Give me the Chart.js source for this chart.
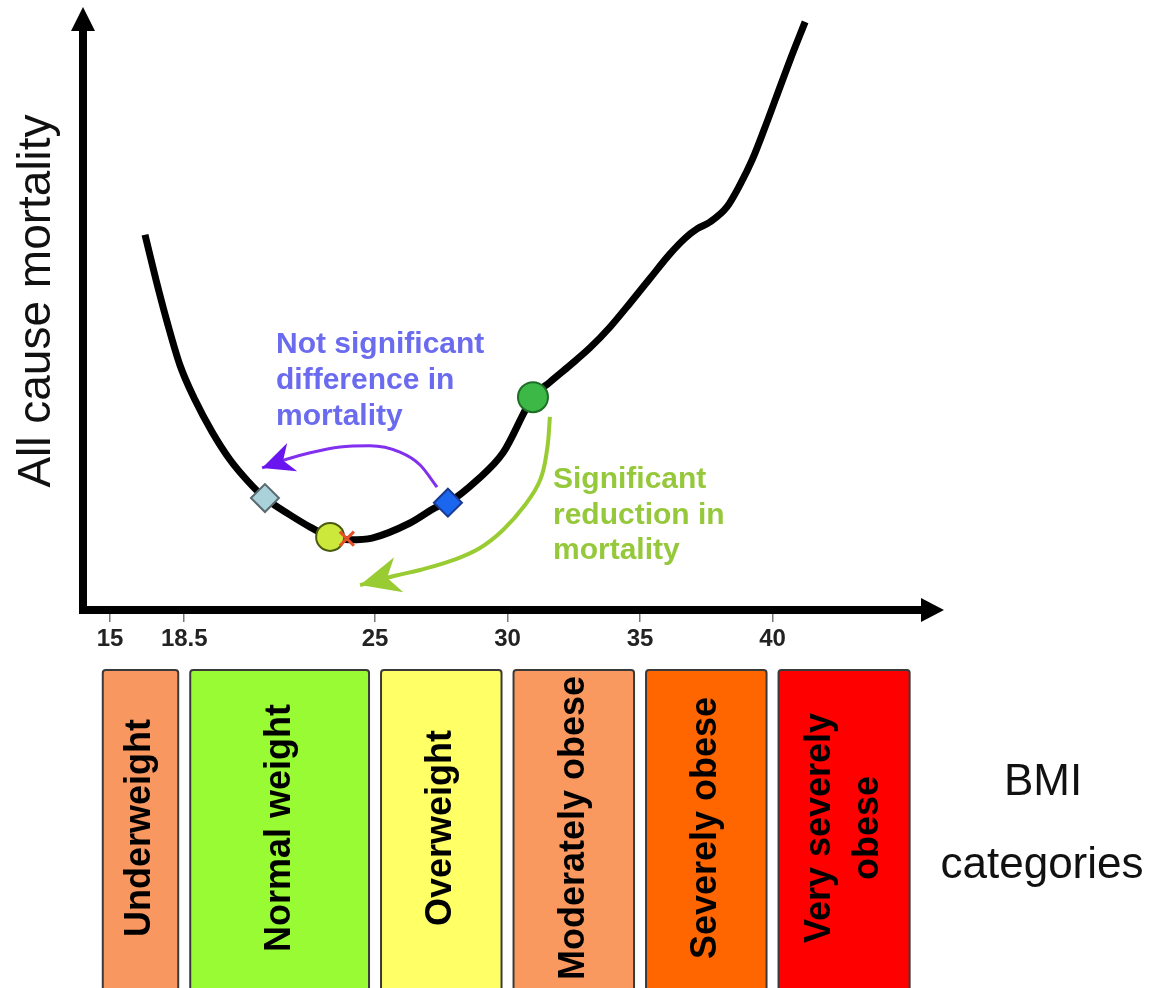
<!DOCTYPE html>
<html>
<head>
<meta charset="utf-8">
<script src="https://cdn.jsdelivr.net/npm/chart.js@4/dist/chart.umd.min.js"></script>
<style>
  html, body { margin: 0; padding: 0; background: #fff; }
  canvas { display: block; }
</style>
</head>
<body>
<canvas id="chart" width="1159" height="988" style="width:1159px;height:988px"></canvas>
<script>
// BMI tick labels on the x axis
const tickValues = [15, 18.5, 25, 30, 35, 40];

// mortality curve (arbitrary units) against BMI
const curveBmi = [16.65, 17.17, 17.69, 18.30, 18.87, 19.45, 20.06, 20.67, 21.25, 22.10, 22.79, 23.47, 24.15, 24.90,
  26.32, 27.34, 27.75, 28.85, 29.83, 30.96, 31.60, 32.36, 33.11, 33.87, 34.62, 35.38, 36.13, 36.70, 37.15,
  37.64, 38.28, 38.77, 39.23, 39.68, 40.13, 40.66, 41.23];
const curveMortality = [64.7, 56.9, 49.7, 42.2, 36.2, 30.7, 25.9, 22.2, 19.3, 16.4, 14.3, 12.6, 12.1, 12.4,
  15.0, 17.8, 18.5, 22.4, 27.1, 36.7, 39.3, 42.2, 45.2, 48.8, 52.9, 57.2, 61.4, 64.1, 65.7,
  66.9, 69.5, 73.3, 77.6, 82.8, 88.3, 94.8, 101.4];

// markers on the curve
const markerBmi = [21.25, 23.47, 24.04, 27.75, 30.96];
const markerMortality = [19.3, 12.6, 12.3, 18.5, 36.7];

// curved arrows
const purpleArrowBmi = [27.34, 26.70, 25.94, 24.83, 23.81, 22.79, 21.93, 21.15];
const purpleArrowMortality = [21.2, 25.0, 27.2, 28.3, 28.1, 27.1, 25.9, 24.5];
const greenArrowBmi = [31.60, 31.49, 31.23, 30.66, 29.83, 28.96, 27.94, 26.70, 25.75, 24.49];
const greenArrowMortality = [33.3, 27.6, 22.4, 18.1, 13.8, 10.7, 8.6, 6.9, 5.9, 4.3];

// BMI categories
const categories = [['Underweight'], ['Normal weight'], ['Overweight'], ['Moderately obese'], ['Severely obese'], ['Very severely', 'obese']];
const catFrom = [14.5, 18.5, 25, 30, 35, 40];
const catTo = [18.5, 25, 30, 35, 40, 45.4];
const catColors = ['#f8975f', '#99fb33', '#ffff66', '#f9995f', '#ff6600', '#ff0000'];

const notSignificant = ['Not significant', 'difference in', 'mortality'];
const significant = ['Significant', 'reduction in', 'mortality'];

// the drawing squeezes the 15-25 range, so the x scale does too
class BmiScale extends Chart.LinearScale {
  warp(v) {
    if (v <= 15 || v >= 25) return v;
    if (v <= 18.5) return 15 + (v - 15) * (2.8 / 3.5);
    return 17.8 + (v - 18.5) * (7.2 / 6.5);
  }
  unwarp(w) {
    if (w <= 15 || w >= 25) return w;
    if (w <= 17.8) return 15 + (w - 15) * (3.5 / 2.8);
    return 18.5 + (w - 17.8) * (6.5 / 7.2);
  }
  getPixelForValue(v) { return super.getPixelForValue(this.warp(v)); }
  getValueForPixel(p) { return this.unwarp(super.getValueForPixel(p)); }
}
BmiScale.id = 'bmi';
BmiScale.defaults = Chart.LinearScale.defaults;
Chart.register(BmiScale);

const FONT = "'Liberation Sans', Arial, sans-serif";

const arrowHeads = {
  id: 'arrowHeads',
  afterDatasetsDraw(chart) {
    const ctx = chart.ctx;
    chart.data.datasets.forEach((ds, i) => {
      if (!ds.arrowHead) return;
      const pts = chart.getDatasetMeta(i).data;
      const a = pts[pts.length - 2], b = pts[pts.length - 1];
      const ang = Math.atan2(b.y - a.y, b.x - a.x);
      const { len, half, color } = ds.arrowHead;
      const dx = Math.cos(ang), dy = Math.sin(ang);
      ctx.save();
      ctx.fillStyle = color;
      ctx.beginPath();
      ctx.moveTo(b.x, b.y);
      ctx.lineTo(b.x - len * dx - half * dy, b.y - len * dy + half * dx);
      ctx.lineTo(b.x - len * 0.7 * dx, b.y - len * 0.7 * dy);
      ctx.lineTo(b.x - len * dx + half * dy, b.y - len * dy - half * dx);
      ctx.closePath();
      ctx.fill();
      ctx.restore();
    });
  }
};

const decorations = {
  id: 'decorations',
  afterDraw(chart) {
    const ctx = chart.ctx;
    const area = chart.chartArea;
    const x = chart.scales.x;
    ctx.save();

    // axis arrow heads
    ctx.fillStyle = '#000';
    ctx.beginPath();
    ctx.moveTo(area.left, area.top - 23);
    ctx.lineTo(area.left - 12, area.top + 1);
    ctx.lineTo(area.left + 12, area.top + 1);
    ctx.closePath();
    ctx.fill();
    ctx.beginPath();
    ctx.moveTo(area.right + 22, area.bottom);
    ctx.lineTo(area.right - 1, area.bottom - 12);
    ctx.lineTo(area.right - 1, area.bottom + 12);
    ctx.closePath();
    ctx.fill();

    // y axis title
    ctx.fillStyle = '#111';
    ctx.font = '46px ' + FONT;
    ctx.textAlign = 'center';
    ctx.textBaseline = 'alphabetic';
    ctx.save();
    ctx.translate(50, 301);
    ctx.rotate(-Math.PI / 2);
    ctx.fillText('All cause mortality', 0, 0);
    ctx.restore();

    // BMI categories caption
    ctx.font = '44px ' + FONT;
    ctx.fillText('BMI', 1043, 795);
    ctx.fillText('categories', 1042, 878);

    // annotation texts
    ctx.textAlign = 'left';
    ctx.font = 'bold 30px ' + FONT;
    ctx.fillStyle = '#6b6bef';
    notSignificant.forEach((t, i) => ctx.fillText(t, 276, 353 + i * 36));
    ctx.fillStyle = '#95c83a';
    significant.forEach((t, i) => ctx.fillText(t, 553, 488 + i * 35.5));

    // category boxes
    const top = 670, bottom = 1000;
    categories.forEach((lines, i) => {
      const x0 = x.getPixelForValue(catFrom[i]) + 6;
      const x1 = x.getPixelForValue(catTo[i]) - 6;
      ctx.fillStyle = catColors[i];
      ctx.strokeStyle = '#3a3a3a';
      ctx.lineWidth = 2;
      ctx.beginPath();
      ctx.roundRect(x0, top, x1 - x0, bottom - top, 3);
      ctx.fill();
      ctx.stroke();
      ctx.save();
      ctx.translate((x0 + x1) / 2, 828);
      ctx.rotate(-Math.PI / 2);
      ctx.fillStyle = '#000';
      ctx.font = 'bold 36px ' + FONT;
      ctx.textAlign = 'center';
      ctx.textBaseline = 'middle';
      lines.forEach((t, j) => ctx.fillText(t, 0, (j - (lines.length - 1) / 2) * 48));
      ctx.restore();
    });
    ctx.restore();
  }
};

const toXY = (xs, ys) => xs.map((v, i) => ({ x: v, y: ys[i] }));

new Chart(document.getElementById('chart'), {
  type: 'line',
  data: {
    datasets: [
      {
        data: toXY(markerBmi, markerMortality),
        showLine: false,
        pointStyle: ['rectRot', 'circle', 'crossRot', 'rectRot', 'circle'],
        pointRadius: [14, 14, 10, 14, 15],
        pointBackgroundColor: ['#a9d2da', '#cce83a', '#e8502a', '#1a66ee', '#3cb846'],
        pointBorderColor: ['#5a6a70', '#4a5a10', '#e8502a', '#1a3a90', '#1e6e28'],
        pointBorderWidth: [2, 2, 3, 2, 2],
        order: 0
      },
      {
        data: toXY(purpleArrowBmi, purpleArrowMortality),
        borderColor: '#8030ee',
        borderWidth: 3,
        cubicInterpolationMode: 'monotone',
        pointRadius: 0,
        arrowHead: { len: 32, half: 15, color: '#6a14f0' },
        order: 1
      },
      {
        data: toXY(greenArrowBmi, greenArrowMortality),
        borderColor: '#99cc33',
        borderWidth: 4,
        tension: 0.4,
        pointRadius: 0,
        arrowHead: { len: 40, half: 18, color: '#99cc33' },
        order: 2
      },
      {
        data: toXY(curveBmi, curveMortality),
        borderColor: '#000',
        borderWidth: 7,
        cubicInterpolationMode: 'monotone',
        pointRadius: 0,
        borderCapStyle: 'butt',
        clip: false,
        order: 3
      }
    ]
  },
  options: {
    responsive: false,
    animation: false,
    layout: { padding: { left: 83, top: 30, right: 237, bottom: 328 } },
    plugins: { legend: { display: false }, tooltip: { enabled: false } },
    scales: {
      x: {
        type: 'bmi',
        min: 13.98,
        max: 45.64,
        afterFit: (s) => { s.height = 50; },
        afterBuildTicks: (s) => { s.ticks = tickValues.map(v => ({ value: v })); },
        border: { display: true, color: '#000', width: 8 },
        grid: { display: true, drawOnChartArea: false, drawTicks: true, tickLength: 12, color: '#777', lineWidth: 1.5 },
        ticks: {
          autoSkip: false,
          maxRotation: 0,
          padding: 3,
          color: '#222',
          font: { family: "'Liberation Sans Narrow', 'Liberation Sans', Arial, sans-serif", size: 24, weight: 'bold' },
          callback: (v) => String(v)
        }
      },
      y: {
        min: 0,
        max: 100,
        afterFit: (s) => { s.width = 0; },
        border: { display: true, color: '#000', width: 8 },
        grid: { display: false },
        ticks: { display: false }
      }
    }
  },
  plugins: [arrowHeads, decorations]
});
</script>
</body>
</html>
